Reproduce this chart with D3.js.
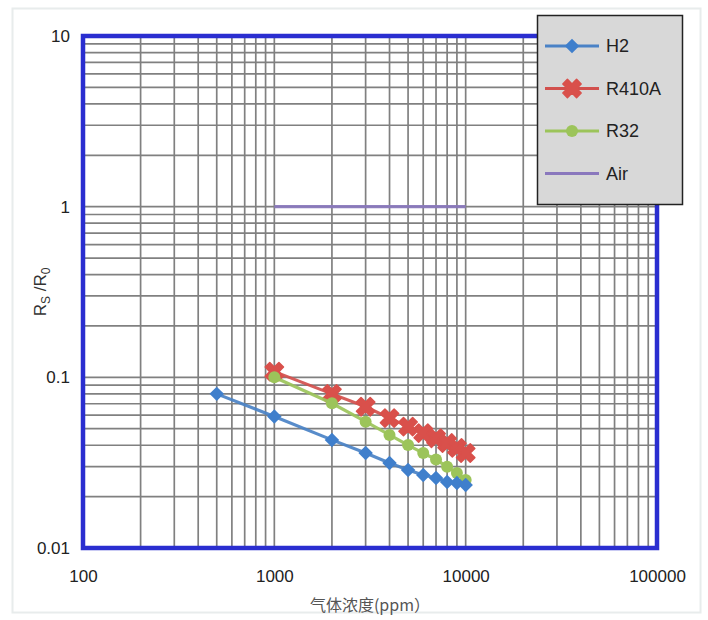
<!DOCTYPE html>
<html>
<head>
<meta charset="utf-8">
<script src="https://cdn.jsdelivr.net/npm/d3@7"></script>
<style>
  body { margin: 0; background: #fff; }
  svg text { font-family: "Liberation Sans", Arial, sans-serif; }
</style>
</head>
<body>
<svg id="chart" width="708" height="620"></svg>
<script>
// ---------------- data ----------------
const xTicks = [100, 1000, 10000, 100000];
const yTicks = [0.01, 0.1, 1, 10];

const h2X = [500, 1000, 2000, 3000, 4000, 5000, 6000, 7000, 8000, 9000, 10000];
const h2Y = [0.080, 0.059, 0.043, 0.036, 0.0315, 0.0286, 0.0268, 0.0257, 0.0244, 0.024, 0.0234];

const r410aX = [1000, 2000, 3000, 4000, 5000, 6000, 7000, 8000, 9000, 10000];
const r410aY = [0.108, 0.080, 0.0673, 0.0577, 0.0514, 0.0471, 0.044, 0.0412, 0.0386, 0.036];

const r32X = [1000, 2000, 3000, 4000, 5000, 6000, 7000, 8000, 9000, 10000];
const r32Y = [0.100, 0.0705, 0.055, 0.046, 0.0401, 0.036, 0.0330, 0.0299, 0.0275, 0.025];

const airX = [1000, 10000];
const airY = [1, 1];

const seriesNames = ["H2", "R410A", "R32", "Air"];

// ---------------- layout ----------------
const svg = d3.select("#chart");
const margin = {left: 83, top: 36, right: 51, bottom: 72};
const width = 708 - margin.left - margin.right,
      height = 620 - margin.top - margin.bottom;

// light frame round the whole picture
svg.append("rect")
  .attr("x", 12.5).attr("y", 8.5)
  .attr("width", 688).attr("height", 604)
  .attr("fill", "none").attr("stroke", "#e8ecec").attr("stroke-width", 2);

const g = svg.append("g").attr("transform", "translate(" + margin.left + "," + margin.top + ")");

let x = d3.scaleLog().domain([100, 100000]).range([0, width]);
let y = d3.scaleLog().domain([0.01, 10]).range([height, 0]);

// minor grid: every 1..9 within each decade
let xGrid = [], yGrid = [];
for (let d = 100; d < 100000; d *= 10) for (let k = 1; k < 10; k++) xGrid.push(d * k);
for (let d = 0.01; d < 9; d *= 10) for (let k = 1; k < 10; k++) yGrid.push(+(d * k).toPrecision(3));

g.append("g").selectAll("line").data(xGrid).enter().append("line")
  .attr("x1", d => x(d)).attr("x2", d => x(d))
  .attr("y1", 0).attr("y2", height)
  .attr("stroke", "#808080").attr("stroke-width", 1.7);

g.append("g").selectAll("line").data(yGrid).enter().append("line")
  .attr("y1", d => y(d)).attr("y2", d => y(d))
  .attr("x1", 0).attr("x2", width)
  .attr("stroke", "#808080").attr("stroke-width", 1.7);

// axes (labels only, no tick marks)
let xAxis = g.append("g")
  .attr("transform", "translate(0," + height + ")")
  .call(d3.axisBottom(x).tickValues(xTicks).tickFormat(d3.format("d")).tickSize(0).tickPadding(22));
let yAxis = g.append("g")
  .call(d3.axisLeft(y).tickValues(yTicks).tickFormat(d => d >= 1 ? String(d) : d3.format(".2~f")(d)).tickSize(0).tickPadding(13));
[xAxis, yAxis].forEach(a => {
  a.select(".domain").remove();
  a.selectAll("text").attr("font-size", 17).attr("fill", "#222")
    .style("font-family", '"Liberation Sans", Arial, sans-serif');
});

// blue frame of the plot area
g.append("rect")
  .attr("x", 0).attr("y", 0).attr("width", width).attr("height", height)
  .attr("fill", "none").attr("stroke", "#2a2ed0").attr("stroke-width", 4.5);

// ---------------- series ----------------
const line = d3.line().x(d => x(d[0])).y(d => y(d[1]));
const diamond = d3.symbol().type(d3.symbolSquare).size(105);
const cross = d3.symbol().type(d3.symbolCross).size(210);

function series(xs, ys, color, w) {
  let pts = xs.map((v, i) => [v, ys[i]]);
  g.append("path").datum(pts)
    .attr("d", line).attr("fill", "none")
    .attr("stroke", color).attr("stroke-width", w).attr("opacity", 0.92);
  return pts;
}

let airPts = series(airX, airY, "#8a78bd", 3.2);

let r410Pts = series(r410aX, r410aY, "#d2504d", 3.2);
g.append("g").selectAll("path").data(r410Pts).enter().append("path")
  .attr("transform", d => "translate(" + x(d[0]) + "," + y(d[1]) + ") rotate(45)")
  .attr("d", cross)
  .attr("fill", "#d9504b").attr("stroke", "#d9504b").attr("stroke-width", 1.5).attr("stroke-linejoin", "round");

let r32Pts = series(r32X, r32Y, "#9cc45a", 3.2);
g.append("g").selectAll("circle").data(r32Pts).enter().append("circle")
  .attr("cx", d => x(d[0])).attr("cy", d => y(d[1])).attr("r", 6)
  .attr("fill", "#9cc45a");

let h2Pts = series(h2X, h2Y, "#4a82c6", 3.2);
g.append("g").selectAll("path").data(h2Pts).enter().append("path")
  .attr("transform", d => "translate(" + x(d[0]) + "," + y(d[1]) + ") rotate(45)")
  .attr("d", diamond)
  .attr("fill", "#3f7fcc");

// ---------------- legend ----------------
let legend = svg.append("g").attr("transform", "translate(537,15)");
legend.append("rect")
  .attr("x", 0.5).attr("y", 0.5).attr("width", 145).attr("height", 189)
  .attr("fill", "#d8d8d8").attr("stroke", "#222").attr("stroke-width", 1.5);

const legColors = ["#4a82c6", "#d2504d", "#9cc45a", "#8a78bd"];
let items = legend.selectAll("g.item").data(seriesNames).enter().append("g")
  .attr("class", "item")
  .attr("transform", (d, i) => "translate(0," + (31 + i * 42.5) + ")");
items.append("line")
  .attr("x1", 8).attr("x2", 62).attr("y1", 0).attr("y2", 0)
  .attr("stroke", (d, i) => legColors[i]).attr("stroke-width", 3.2);
items.each(function(d, i) {
  let it = d3.select(this);
  if (i === 0) it.append("path").attr("transform", "translate(35,0) rotate(45)")
    .attr("d", diamond).attr("fill", "#3f7fcc");
  if (i === 1) it.append("path").attr("transform", "translate(35,0) rotate(45)")
    .attr("d", cross).attr("fill", "#d9504b")
    .attr("stroke", "#d9504b").attr("stroke-width", 1.5).attr("stroke-linejoin", "round");
  if (i === 2) it.append("circle").attr("cx", 35).attr("r", 6).attr("fill", "#9cc45a");
});
items.append("text")
  .attr("x", 69).attr("y", 6)
  .attr("font-size", 18).attr("fill", "#222")
  .text(d => d);

// ---------------- titles ----------------
svg.append("text")
  .attr("x", 370).attr("y", 611)
  .attr("text-anchor", "middle").attr("font-size", 16).attr("fill", "#555")
  .style("font-family", '"Noto Sans CJK SC", sans-serif')
  .text("气体浓度(ppm）");

let yt = svg.append("text")
  .attr("transform", "translate(46,292) rotate(-90)")
  .attr("text-anchor", "middle").attr("font-size", 17).attr("fill", "#333");
yt.append("tspan").text("R");
yt.append("tspan").attr("font-size", 12).attr("dy", 4).text("S");
yt.append("tspan").attr("dy", -4).text(" /R");
yt.append("tspan").attr("font-size", 12).attr("dy", 4).text("0");
</script>
</body>
</html>
